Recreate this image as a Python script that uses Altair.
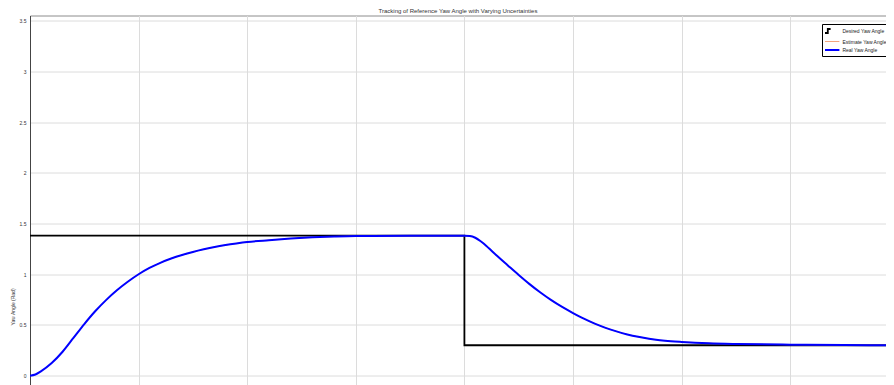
import altair as alt
import pandas as pd

title_text = "Tracking of Reference Yaw Angle with Varying Uncertainties"
y_title = "Yaw Angle (Rad)"
series_names = ["Desired Yaw Angle", "Estimate Yaw Angle", "Real Yaw Angle"]
series_colors = ["#000000", "#F2A57E", "#0000FF"]
series_widths = [1.8, 1.0, 2.0]
series_interp = ["linear", "monotone", "monotone"]

desired_t = [0, 4, 4, 8]
desired_y = [1.38, 1.38, 0.3, 0.3]

real_t = [0, 0.05, 0.1, 0.2, 0.3, 0.4, 0.5, 0.6, 0.7, 0.8, 0.9, 1.0, 1.1, 1.2, 1.3,
          1.4, 1.5, 1.6, 1.7, 1.8, 1.9, 2.0, 2.2, 2.4, 2.6, 2.8, 3.0, 3.5, 4.0,
          4.05, 4.1, 4.15, 4.2, 4.25, 4.3, 4.4, 4.5, 4.6, 4.7, 4.8, 4.9, 5.0, 5.1, 5.2,
          5.3, 5.4, 5.5, 5.6, 5.7, 5.8, 5.9, 6.0, 6.25, 6.5, 7.0, 7.5, 8.0]
real_y = [0, 0.012, 0.043, 0.125, 0.236, 0.372, 0.509, 0.635, 0.745, 0.842, 0.926, 1.0,
          1.062, 1.113, 1.155, 1.19, 1.22, 1.246, 1.269, 1.288, 1.304, 1.318, 1.336,
          1.352, 1.364, 1.372, 1.377, 1.379, 1.38,
          1.377, 1.36, 1.325, 1.282, 1.232, 1.182, 1.087, 0.993, 0.903, 0.82, 0.745,
          0.678, 0.618, 0.562, 0.513, 0.472, 0.437, 0.407, 0.383, 0.364, 0.35, 0.34,
          0.333, 0.32, 0.313, 0.306, 0.302, 0.301]

estimate_t = real_t
estimate_y = real_y

y_ticks = [0, 0.5, 1, 1.5, 2, 2.5, 3, 3.5]
x_grid = [0, 1, 2, 3, 4, 5, 6, 7, 8]

rows = []
for name, ts, ys in [(series_names[0], desired_t, desired_y),
                     (series_names[1], estimate_t, estimate_y),
                     (series_names[2], real_t, real_y)]:
    for i, (t, y) in enumerate(zip(ts, ys)):
        rows.append({"series": name, "t": t, "y": y, "i": i})
df = pd.DataFrame(rows)

FONT = "Liberation Sans"

legend = alt.Legend(
    title=None, orient="none", legendX=792, legendY=8.5,
    fillColor="white", strokeColor="black", padding=2,
    labelFontSize=5, labelFont=FONT, labelColor="#222", labelOffset=8.4,
    symbolSize=64, rowPadding=0, labelLimit=200,
    symbolType={"expr": "datum.value === 'Desired Yaw Angle' ? 'M-1,0.5H-0.3V-0.5H0.4' : 'M-1,0H2.6'"},
)

x_enc = alt.X("t:Q", scale=alt.Scale(domain=[0, 7.882], nice=False, zero=False),
              axis=alt.Axis(values=x_grid, labels=False, ticks=False, domain=False,
                            grid=True, gridColor="#dcdcdc", title=None))
y_enc = alt.Y("y:Q", scale=alt.Scale(domain=[-0.0917, 3.551], nice=False, zero=False),
              axis=alt.Axis(values=y_ticks, labelExpr="datum.value + ''", ticks=False,
                            labelFontSize=5, labelFont=FONT, labelColor="#333",
                            labelPadding=4, domainColor="#444", grid=True,
                            gridColor="#dcdcdc", title=y_title, titleFontSize=5,
                            titleFont=FONT, titleFontWeight="normal", titleColor="#333",
                            titleX=-15, titleY=291, titleAlign="center"))
color = alt.Color("series:N", scale=alt.Scale(domain=series_names, range=series_colors),
                  legend=legend)
sw = alt.StrokeWidth("series:N",
                     scale=alt.Scale(type="ordinal", domain=series_names, range=series_widths),
                     legend=legend)

base = alt.Chart(df)
layers = []
for name, interp in zip(series_names, series_interp):
    layers.append(
        base.transform_filter(alt.datum.series == name)
        .mark_line(clip=True, interpolate=interp)
        .encode(x=x_enc, y=y_enc, color=color, strokeWidth=sw, order=alt.Order("i:Q"))
    )

chart = alt.layer(*layers).properties(
    width=856, height=369.5,
    padding={"left": 22, "top": 7.5, "right": 0, "bottom": 0},
    autosize=alt.AutoSizeParams(type="none"),
    title=alt.TitleParams(text=title_text, fontSize=6, font=FONT, fontWeight="normal",
                          color="#333", offset=1.5, anchor="middle"),
    background="white",
).configure_view(stroke="#8c8c8c", strokeWidth=1)

chart.save("out.html", embed_options={"renderer": "svg", "actions": False})
